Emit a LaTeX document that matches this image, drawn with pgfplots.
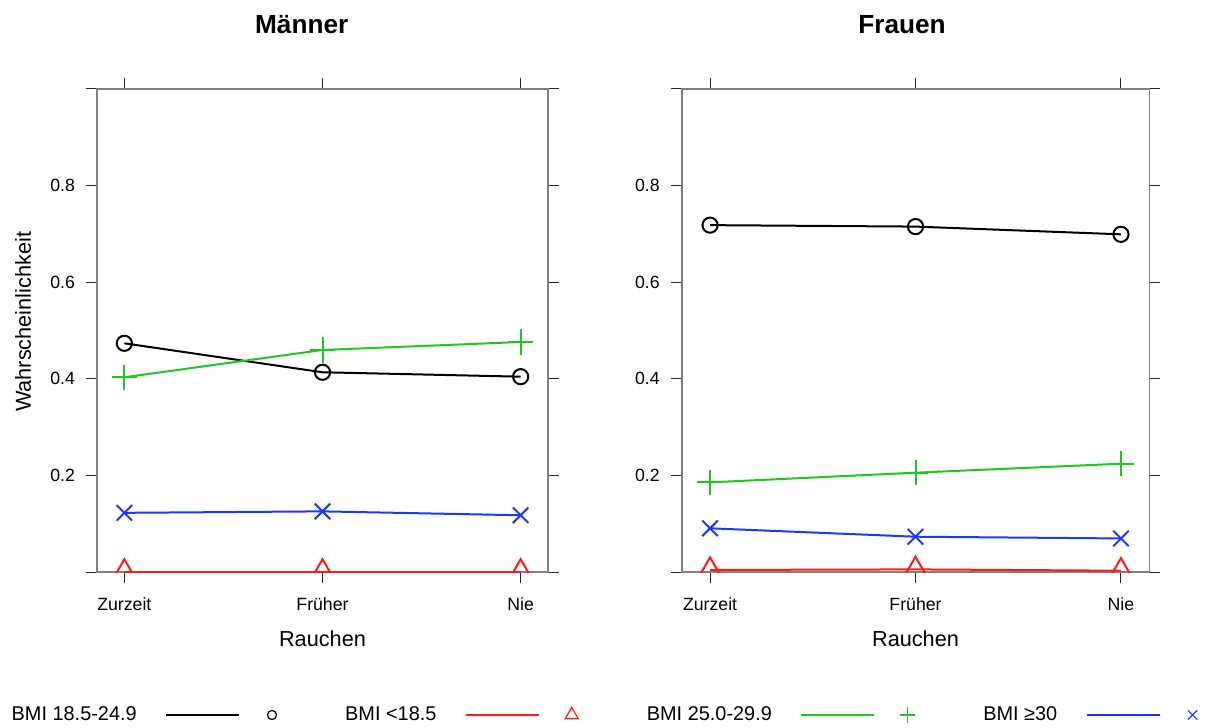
\documentclass[border=0pt]{standalone}
\usepackage{pgfplots}
\pgfplotsset{compat=1.18}
\usepackage{fontspec}
\setmainfont{Liberation Sans}
\definecolor{cRed}{RGB}{255,25,25}
\definecolor{cGreen}{RGB}{30,200,30}
\definecolor{cBlue}{RGB}{30,55,255}
\pgfplotsset{
  panel/.style={
    scale only axis,
    height=241.75pt,
    ymin=0, ymax=1,
    xmin=-0.138, xmax=2.138,
    xtick={0,1,2},
    xticklabels={Zurzeit,Früher,Nie},
    ytick={0,0.2,0.4,0.6,0.8,1},
    yticklabels={,0.2,0.4,0.6,0.8,},
    tick align=outside,
    major tick length=5.5pt,
    axis line style={black!50, line width=0.8pt},
    every tick/.style={black!85, line width=0.5pt},
    tick label style={font=\fontsize{8.85}{10}\selectfont},
    xticklabel style={anchor=base, yshift=-13.5pt},
    yticklabel style={xshift=-2pt},
    label style={font=\fontsize{10.85}{12}\selectfont},
    title style={font=\fontsize{13.1}{15}\selectfont\bfseries, anchor=base},
    clip marker paths=true,
    xlabel={Rauchen},
    xlabel style={at={(axis description cs:0.5,-0.1539)}, anchor=base},
  },
  sBlack/.style={color=black, line width=1pt, mark=o, mark size=3.8pt, mark options={line width=1pt}},
  sRed/.style={color=cRed, line width=1pt, mark=triangle, mark size=6.3pt, mark options={line width=1pt}},
  sGreen/.style={color=cGreen, line width=1pt, mark=+, mark size=6.3pt, mark options={line width=1pt}},
  sBlue/.style={color=cBlue, line width=1pt, mark=x, mark size=5.5pt, mark options={line width=1pt}},
}
\begin{document}
\begin{tikzpicture}
\useasboundingbox (0,0) rectangle (606.5pt,363.5pt);
\begin{axis}[panel,
  at={(48.5pt,77.35pt)}, anchor=south west,
  width=225.5pt,
  title={Männer},
  title style={at={(axis description cs:0.4539,1.090)}},
  ylabel={Wahrscheinlichkeit},
  ylabel style={at={(axis description cs:-0.164,0.518)}, anchor=center},
  legend columns=4,
  legend plot pos=right,
  legend cell align=left,
  legend image code/.code={%
    \draw[#1, mark=none, line width=1.3pt] (0pt,0pt) -- (36.5pt,0pt);
    \draw[#1, only marks, mark options={scale=0.6, line width=0.6pt}] plot coordinates {(53pt,0pt)};
  },
  legend style={at={(axis description cs:-0.1891,-0.2951)}, anchor=west,
    draw=none, fill=none, inner sep=0pt, outer sep=0pt,
    nodes={inner sep=0pt, font=\fontsize{9.95}{11}\selectfont},
    /tikz/every odd column/.append style={column sep=14pt},
    /tikz/every even column/.append style={column sep=34.3pt}},
]
\addplot[sBlack] coordinates {(0,0.4736) (1,0.4137) (2,0.4046)};
\addlegendentry{BMI 18.5-24.9}
\addplot[sRed] coordinates {(0,0.001) (1,0.001) (2,0.001)};
\addlegendentry{BMI <18.5}
\addplot[sGreen] coordinates {(0,0.4033) (1,0.4598) (2,0.4763)};
\addlegendentry{BMI 25.0-29.9}
\addplot[sBlue] coordinates {(0,0.123) (1,0.126) (2,0.118)};
\addlegendentry{BMI ≥30}
\end{axis}
\begin{axis}[panel,
  at={(340.85pt,77.35pt)}, anchor=south west,
  width=233.8pt,
  title={Frauen},
  title style={at={(axis description cs:0.4711,1.090)}},
]
\addplot[sBlack] coordinates {(0,0.718) (1,0.715) (2,0.699)};
\addplot[sRed] coordinates {(0,0.0048) (1,0.006) (2,0.0033)};
\addplot[sGreen] coordinates {(0,0.186) (1,0.206) (2,0.2246)};
\addplot[sBlue] coordinates {(0,0.091) (1,0.0736) (2,0.070)};
\end{axis}
\end{tikzpicture}
\end{document}
